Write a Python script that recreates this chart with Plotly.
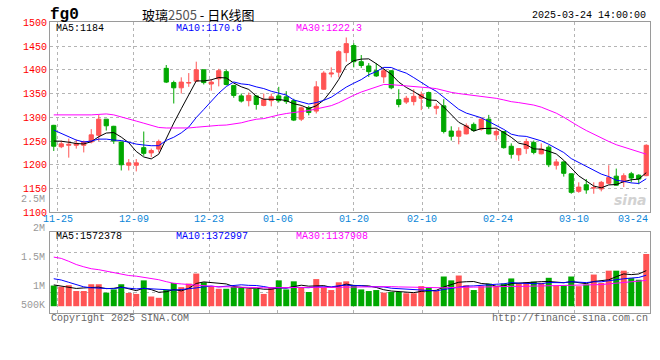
import numpy as np
import pandas as pd
import plotly.graph_objects as go

# ---------------- data ----------------
dates = ["11-22", "11-25", "11-26", "11-27", "11-28", "11-29",
         "12-02", "12-03", "12-04", "12-05", "12-06", "12-09", "12-10", "12-11", "12-12", "12-13",
         "12-16", "12-17", "12-18", "12-19", "12-20", "12-23", "12-24", "12-25", "12-26", "12-27",
         "12-30", "12-31", "01-02", "01-03", "01-06", "01-07", "01-08", "01-09", "01-10",
         "01-13", "01-14", "01-15", "01-16", "01-17", "01-20", "01-21", "01-22", "01-23", "01-24",
         "01-27", "02-05", "02-06", "02-07", "02-10", "02-11", "02-12", "02-13", "02-14",
         "02-17", "02-18", "02-19", "02-20", "02-21", "02-24", "02-25", "02-26", "02-27", "02-28",
         "03-03", "03-04", "03-05", "03-06", "03-07", "03-10", "03-11", "03-12", "03-13", "03-14",
         "03-17", "03-18", "03-19", "03-20", "03-21", "03-24"]

open_ = [1283, 1238, 1241, 1241, 1241, 1248, 1262, 1296, 1281, 1248,
         1199, 1199, 1236, 1225, 1233, 1403, 1373, 1362, 1372, 1376,
         1400, 1370, 1381, 1396, 1367, 1345, 1335, 1345, 1325, 1335,
         1345, 1343, 1335, 1296, 1320, 1313, 1359, 1391, 1395, 1436,
         1451, 1417, 1408, 1398, 1385, 1398, 1337, 1332, 1333, 1340,
         1352, 1319, 1324, 1271, 1260, 1265, 1285, 1275, 1296, 1263,
         1270, 1239, 1221, 1234, 1247, 1223, 1237, 1199, 1206, 1181,
         1144, 1158, 1151, 1149, 1161, 1176, 1164, 1181, 1178, 1177]
high = [1284, 1251, 1255, 1253, 1251, 1275, 1306, 1296, 1282, 1249,
        1212, 1212, 1270, 1234, 1253, 1410, 1377, 1384, 1393, 1417,
        1400, 1380, 1402, 1400, 1367, 1350, 1352, 1346, 1350, 1350,
        1364, 1355, 1339, 1323, 1324, 1376, 1397, 1405, 1441, 1468,
        1456, 1431, 1414, 1414, 1402, 1399, 1359, 1345, 1359, 1354,
        1354, 1329, 1338, 1281, 1279, 1287, 1289, 1299, 1305, 1275,
        1270, 1245, 1235, 1255, 1251, 1245, 1241, 1212, 1207, 1182,
        1163, 1170, 1163, 1166, 1199, 1192, 1182, 1185, 1180, 1243]
low = [1229, 1235, 1215, 1234, 1226, 1245, 1250, 1272, 1244, 1188,
       1188, 1186, 1219, 1216, 1226, 1372, 1329, 1350, 1364, 1375,
       1369, 1356, 1365, 1367, 1341, 1331, 1323, 1316, 1323, 1323,
       1331, 1328, 1292, 1292, 1304, 1308, 1358, 1384, 1384, 1417,
       1405, 1404, 1385, 1385, 1372, 1359, 1321, 1328, 1325, 1315,
       1318, 1306, 1266, 1251, 1243, 1264, 1270, 1272, 1264, 1251,
       1234, 1213, 1208, 1223, 1222, 1222, 1195, 1190, 1175, 1139,
       1141, 1139, 1139, 1144, 1159, 1156, 1153, 1163, 1159, 1176]
close = [1239, 1244, 1243, 1245, 1248, 1263, 1296, 1282, 1250, 1200,
         1204, 1204, 1224, 1230, 1249, 1374, 1362, 1374, 1373, 1400,
         1373, 1374, 1398, 1369, 1346, 1334, 1346, 1327, 1337, 1343,
         1335, 1333, 1294, 1320, 1310, 1364, 1393, 1393, 1438, 1455,
         1417, 1409, 1396, 1387, 1398, 1362, 1327, 1340, 1344, 1348,
         1323, 1323, 1270, 1260, 1271, 1282, 1272, 1296, 1265, 1270,
         1236, 1222, 1234, 1249, 1226, 1233, 1200, 1206, 1182, 1142,
         1153, 1147, 1152, 1163, 1173, 1157, 1177, 1172, 1170, 1241]
volume = [912000, 855000, 927000, 670000, 670000, 969000, 969000, 599000, 741000, 969000,
          585000, 542000, 1140000, 428000, 371000, 713000, 1026000, 841000, 998000, 1440000,
          1055000, 884000, 770000, 770000, 855000, 813000, 770000, 770000, 542000, 841000,
          1140000, 741000, 1098000, 813000, 627000, 1197000, 813000, 713000, 1055000, 1098000,
          912000, 741000, 670000, 713000, 599000, 627000, 627000, 570000, 570000, 884000,
          813000, 670000, 1311000, 1140000, 1354000, 927000, 713000, 884000, 998000, 884000,
          998000, 1226000, 1026000, 1055000, 1083000, 1026000, 1254000, 912000, 912000, 1311000,
          884000, 955000, 1397000, 1026000, 1568000, 1568000, 1568000, 1240000, 1169000, 2309000]

# moving-average values before the visible window is long enough
ma5_early = [1250, 1249.5, 1247.4, 1244.7]
ma10_early = [1273, 1266, 1258, 1252, 1248, 1250, 1254, 1254, 1252]
ma30_early = [1305, 1305, 1303.5, 1303.5, 1304, 1305, 1306, 1307, 1305, 1301,
              1297.5, 1292, 1287.5, 1282.5, 1278.5, 1277.4, 1277.4, 1277.4, 1277.5, 1279,
              1280.8, 1282, 1283, 1283.6, 1285.6, 1288.3, 1292.4, 1295.8, 1297.2]
vma5_early = [941000, 884000, 855000, 784000]
vma10_early = [1212000, 1155000, 1055000, 941000, 855000, 813000, 784000, 784000, 770000]
vma30_early = [2167000, 2110000, 1981000, 1839000, 1739000, 1654000, 1611000, 1540000, 1468000, 1411000,
               1354000, 1326000, 1283000, 1226000, 1169000, 1083000, 1012000, 984000, 955000, 912000,
               884000, 870000, 855000, 855000, 841000, 841000, 827000, 813000, 813000]

date_ticks = ["11-25", "12-09", "12-23", "01-06", "01-20", "02-10", "02-24", "03-10", "03-24"]
price_ticks = [1100, 1150, 1200, 1250, 1300, 1350, 1400, 1450, 1500]
vol_labels = ["2M", "1.5M", "1M", "500K"]

title_code = "fg0"
title_name = "玻璃2505 - 日K线图"
timestamp = "2025-03-24 14:00:00"
price_legend = ["MA5:1184", "MA10:1170.6", "MA30:1222.3"]
vol_legend = ["MA5:1572378", "MA10:1372997", "MA30:1137908"]

# ---------------- helpers ----------------
W, H = 660, 360
RED = "#ff5454"
GREEN = "#00a800"
MA_COLORS = ["#000000", "#0000ff", "#ff00ff"]
MONO = "Liberation Mono, DejaVu Sans Mono, monospace"


def moving_average(values, n, early):
    s = pd.Series(values, dtype=float).rolling(n).mean().to_numpy()
    s[:n - 1] = early
    return s


def px(x):
    return x / W


def py(y):
    return 1 - y / H


N = len(dates)
idx = np.arange(N)
ma_price = [moving_average(close, 5, ma5_early),
            moving_average(close, 10, ma10_early),
            moving_average(close, 30, ma30_early)]
ma_vol = [moving_average(volume, 5, vma5_early),
          moving_average(volume, 10, vma10_early),
          moving_average(volume, 30, vma30_early)]

bar_colors = [RED if c >= o else GREEN for o, c in zip(open_, close)]

# date grid positions (Sina spreads N dates over full width)
tick_idx = [dates.index(d) for d in date_ticks]
grid_x = [i * N / (N - 1) - 0.5 for i in tick_idx]

fig = go.Figure()
fig.add_trace(go.Candlestick(
    x=idx, open=open_, high=high, low=low, close=close,
    increasing=dict(line=dict(color=RED, width=1), fillcolor=RED),
    decreasing=dict(line=dict(color=GREEN, width=1), fillcolor=GREEN),
    whiskerwidth=0, showlegend=False, hoverinfo="skip",
    xaxis="x", yaxis="y"))
for ma, col in zip(ma_price, MA_COLORS):
    fig.add_trace(go.Scatter(x=idx, y=ma, mode="lines", line=dict(color=col, width=1),
                             showlegend=False, hoverinfo="skip", xaxis="x", yaxis="y"))

fig.add_trace(go.Bar(x=idx, y=volume, marker=dict(color=bar_colors, line=dict(width=0)),
                     showlegend=False, hoverinfo="skip", xaxis="x2", yaxis="y2"))
for ma, col in zip(ma_vol, MA_COLORS):
    fig.add_trace(go.Scatter(x=idx, y=ma, mode="lines", line=dict(color=col, width=1),
                             showlegend=False, hoverinfo="skip", xaxis="x2", yaxis="y2"))

xdom = [px(50), px(650)]
vol_range = [-299000, 3268000]
vol_grid = list(np.linspace(vol_range[0], vol_range[1], 5)[1:-1])

common_x = dict(domain=xdom, range=[-0.5, N - 0.5], tickvals=grid_x, showticklabels=False,
                ticks="", showgrid=True, gridcolor="#b4b4b4", griddash="dot", gridwidth=1,
                showline=True, linecolor="#9a9a9a", linewidth=1, mirror=True, zeroline=False,
                fixedrange=True)
fig.update_layout(
    width=W, height=H, autosize=False,
    margin=dict(l=0, r=0, t=0, b=0),
    paper_bgcolor="white", plot_bgcolor="white",
    boxgap=0.2, bargap=0.2,
    xaxis=dict(anchor="y", rangeslider=dict(visible=False), **common_x),
    xaxis2=dict(anchor="y2", **common_x),
    yaxis=dict(domain=[py(213.8), py(17.8)], range=[1100, 1500], tickvals=price_ticks,
               tickfont=dict(family=MONO, size=10, color="#ff0000"), ticks="",
               showgrid=True, gridcolor="#b4b4b4", griddash="dot", gridwidth=1,
               showline=True, linecolor="#9a9a9a", linewidth=1, mirror=True, zeroline=False,
               fixedrange=True),
    yaxis2=dict(domain=[py(317.7), py(234.3)], range=vol_range, tickvals=vol_grid,
                showticklabels=False, ticks="",
                showgrid=True, gridcolor="#b4b4b4", griddash="dot", gridwidth=1,
                showline=True, linecolor="#9a9a9a", linewidth=1, mirror=True, zeroline=False,
                fixedrange=True),
)

ann = []


def text(x, y, s, size=10, color="#000", xanchor="left", family=MONO, **kw):
    ann.append(dict(x=px(x), y=py(y), xref="paper", yref="paper", text=s, showarrow=False,
                    xanchor=xanchor, yanchor="middle",
                    font=dict(family=family, size=size, color=color, **kw)))


# header
text(48, 10, "<b>" + title_code + "</b>", size=16, color="#000")
text(140, 10, title_name.replace("2505", "<span style='color:#555'>2505</span>"), size=13,
     family="Noto Sans CJK SC", color="#000")
text(648, 11, timestamp, size=10, xanchor="right")

# legends
for s, x, col in zip(price_legend, [54, 174, 294], MA_COLORS):
    text(x, 24, s, color=col)
for s, x, col in zip(vol_legend, [54, 174, 294], MA_COLORS):
    text(x, 239, s, color=col)

# date labels
for k, (gx, lab) in enumerate(zip(grid_x, date_ticks)):
    last = k == len(date_ticks) - 1
    ann.append(dict(x=gx if not last else N - 0.5, y=py(221), xref="x", yref="paper", text=lab,
                    showarrow=False, xanchor="right" if last else "center", yanchor="middle",
                    font=dict(family=MONO, size=10, color="#0a86d8")))

# volume axis labels (as drawn by Sina)
for lab, y in zip(vol_labels, [230.5, 260.3, 290.3, 310.3]):
    text(47, y, lab, color="#999", xanchor="right")
text(47, 200.3, "2.5M", color="#999", xanchor="right")

# footer
text(49, 323, "Copyright 2025 SINA.COM", color="#666")
text(650, 323, "http://finance.sina.com.cn", color="#666", xanchor="right")

# watermark
text(630, 201, "<b><i>sina</i></b>", size=14, color="#d2d2d2", xanchor="center",
     family="DejaVu Sans")

fig.update_layout(annotations=ann)
fig.write_html("out.html", config={"displayModeBar": False, "staticPlot": True},
               post_script="document.body.style.margin='0';document.body.style.overflow='hidden';")
